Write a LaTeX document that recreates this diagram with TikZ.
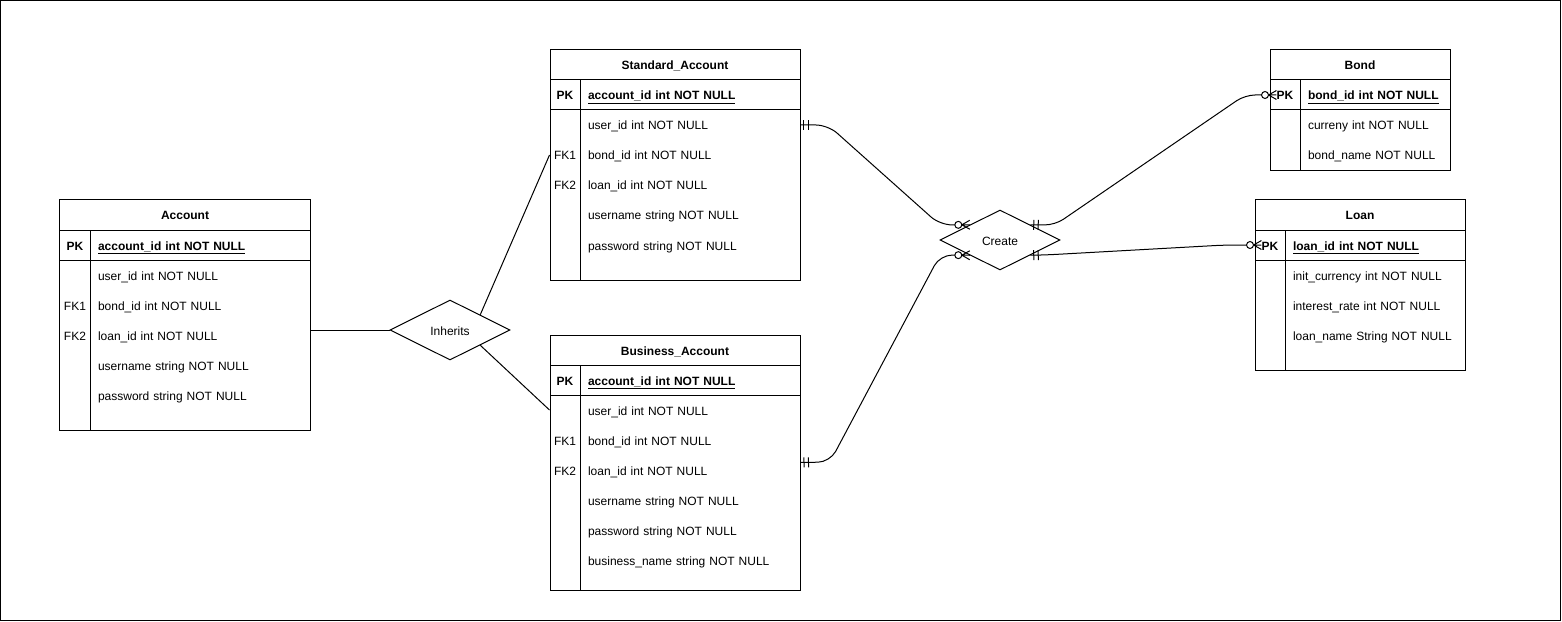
\documentclass[tikz,border=0pt]{standalone}
\usepackage{fontspec}
\setmainfont{Liberation Sans}
\usetikzlibrary{arrows.meta,shapes.geometric,calc}

% "exactly one" end of a relationship line: two bars across the line
\pgfdeclarearrow{
  name = ERone,
  setup code = {
    \pgfarrowssettipend{0pt}
    \pgfarrowssetlineend{0pt}
    \pgfarrowssetbackend{-10pt}
    \pgfarrowssetvisualbackend{-10pt}
    \pgfarrowshullpoint{0pt}{5pt}
    \pgfarrowshullpoint{0pt}{-5pt}
    \pgfarrowshullpoint{-10pt}{5pt}
    \pgfarrowshullpoint{-10pt}{-5pt}
  },
  drawing code = {
    \pgfsetdash{}{0pt}
    \pgfsetbuttcap
    \pgfpathmoveto{\pgfqpoint{-3.5pt}{-5pt}}
    \pgfpathlineto{\pgfqpoint{-3.5pt}{5pt}}
    \pgfpathmoveto{\pgfqpoint{-8pt}{-5pt}}
    \pgfpathlineto{\pgfqpoint{-8pt}{5pt}}
    \pgfusepathqstroke
  }
}

% "zero or many" end: crow's foot with an open circle
\pgfdeclarearrow{
  name = ERmany,
  setup code = {
    \pgfarrowssettipend{0pt}
    \pgfarrowssetlineend{-15pt}
    \pgfarrowssetbackend{-15.5pt}
    \pgfarrowssetvisualbackend{-15.5pt}
    \pgfarrowshullpoint{0pt}{4.5pt}
    \pgfarrowshullpoint{0pt}{-4.5pt}
    \pgfarrowshullpoint{-15.5pt}{3.5pt}
    \pgfarrowshullpoint{-15.5pt}{-3.5pt}
  },
  drawing code = {
    \pgfsetdash{}{0pt}
    \pgfpathmoveto{\pgfqpoint{0pt}{4.5pt}}
    \pgfpathlineto{\pgfqpoint{-8pt}{0pt}}
    \pgfpathlineto{\pgfqpoint{0pt}{-4.5pt}}
    \pgfpathmoveto{\pgfqpoint{-8pt}{0pt}}
    \pgfpathlineto{\pgfqpoint{0pt}{0pt}}
    \pgfusepathqstroke
    \pgfpathcircle{\pgfqpoint{-11.5pt}{0pt}}{3.5pt}
    \pgfsetfillcolor{white}
    \pgfusepathqfillstroke
  }
}

\newcommand{\erfont}{\fontsize{12bp}{14bp}\selectfont}

% entity table: name, left, right, top, bottom, title, primary key field
\newcommand{\ertable}[7]{%
  \pgfmathsetmacro\erW{#3-#2}%
  \pgfmathsetmacro\erH{#5-#4}%
  \pgfmathsetmacro\erTW{#3-#2-46}%
  \node[tbl, minimum width=\erW bp, minimum height=\erH bp] (#1) at ({(#2+#3)/2},{(#4+#5)/2}) {};
  \draw[grid] (#2,#4+30) -- (#3,#4+30);
  \draw[grid] (#2,#4+60) -- (#3,#4+60);
  \draw[grid] (#2+30,#4+30) -- (#2+30,#5);
  \node[headcell] (#1-head) at ({(#2+#3)/2},#4+15) {#6};
  \node[keycell] (#1-pkk) at (#2+15,#4+45) {PK};
  \node[pkattr, text width=\erTW bp] (#1-pk) at ({(#2+30+#3)/2},#4+45) {\underline{#7}};
}

% attribute row: name, left, right, centre y, key label, field
\newcommand{\errow}[6]{%
  \pgfmathsetmacro\erTW{#3-#2-46}%
  \node[keytext] (#1-k) at (#2+15,#4) {#5};
  \node[attr, text width=\erTW bp] (#1) at ({(#2+30+#3)/2},#4) {#6};
}

\tikzset{
  every node/.style={font=\erfont},
  grid/.style={line width=1bp},
  tbl/.style={draw, line width=1bp, inner sep=0pt},
  txt/.style={text height=10bp, text depth=0bp},
  headcell/.style={txt, inner sep=0pt, font=\erfont\bfseries},
  keycell/.style={txt, inner sep=0pt, font=\erfont\bfseries},
  keytext/.style={txt, inner sep=0pt},
  pkattr/.style={txt, inner xsep=8bp, inner ysep=0pt, align=left, font=\erfont\bfseries},
  attr/.style={txt, inner xsep=8bp, inner ysep=0pt, align=left},
  relation/.style={diamond, draw, line width=1bp, aspect=2, inner sep=0pt,
    minimum width=120bp, minimum height=60bp, txt},
  link/.style={line width=1bp, rounded corners=12bp},
}

\begin{document}
\begin{tikzpicture}[x=1bp, y=-1bp]
\useasboundingbox (0,0) rectangle (1562,622);
\draw[line width=1bp] (0.5,0.5) rectangle (1560.5,620.5);

% Account
\ertable{acc}{60}{310}{200}{430}{Account}{account\_id int NOT NULL}
\errow{acc-r1}{60}{310}{275}{}{user\_id int NOT NULL}
\errow{acc-r2}{60}{310}{305}{FK1}{bond\_id int NOT NULL}
\errow{acc-r3}{60}{310}{335}{FK2}{loan\_id int NOT NULL}
\errow{acc-r4}{60}{310}{365}{}{username string NOT NULL}
\errow{acc-r5}{60}{310}{395}{}{password string NOT NULL}

% Standard_Account
\ertable{sa}{550}{800}{50}{280}{Standard\_Account}{account\_id int NOT NULL}
\errow{sa-r1}{550}{800}{125}{}{user\_id int NOT NULL}
\errow{sa-r2}{550}{800}{155}{FK1}{bond\_id int NOT NULL}
\errow{sa-r3}{550}{800}{185}{FK2}{loan\_id int NOT NULL}
\errow{sa-r4}{550}{800}{215}{}{username string NOT NULL}
\errow{sa-r5}{550}{800}{245}{}{password string NOT NULL}

% Business_Account
\ertable{ba}{550}{800}{335}{590}{Business\_Account}{account\_id int NOT NULL}
\errow{ba-r1}{550}{800}{410}{}{user\_id int NOT NULL}
\errow{ba-r2}{550}{800}{440}{FK1}{bond\_id int NOT NULL}
\errow{ba-r3}{550}{800}{470}{FK2}{loan\_id int NOT NULL}
\errow{ba-r4}{550}{800}{500}{}{username string NOT NULL}
\errow{ba-r5}{550}{800}{530}{}{password string NOT NULL}
\errow{ba-r6}{550}{800}{560}{}{business\_name string NOT NULL}

% Bond
\ertable{bd}{1270}{1450}{50}{170}{Bond}{bond\_id int NOT NULL}
\errow{bd-r1}{1270}{1450}{125}{}{curreny int NOT NULL}
\errow{bd-r2}{1270}{1450}{155}{}{bond\_name NOT NULL}

% Loan
\ertable{ln}{1255}{1465}{200}{370}{Loan}{loan\_id int NOT NULL}
\errow{ln-r1}{1255}{1465}{275}{}{init\_currency int NOT NULL}
\errow{ln-r2}{1255}{1465}{305}{}{interest\_rate int NOT NULL}
\errow{ln-r3}{1255}{1465}{335}{}{loan\_name String NOT NULL}

% relationships
\node[relation] (inherits) at (450,330) {Inherits};
\node[relation] (create) at (1000,240) {Create};

% inheritance lines
\draw[line width=1bp] (acc.east |- inherits.west) -- (inherits.west);
\draw[line width=1bp] (inherits.north east) -- (sa.west |- sa-r2);
\draw[line width=1bp] (inherits.south east) -- (ba.west |- ba-r1);

% Create relationship lines
\draw[link, {ERone}-{ERmany}] (sa-r1.east) -- (828,125) -- (940,225) -- (create.north west);
\draw[link, {ERone}-{ERmany}] (ba.east) -- (830,462) -- (940,255) -- (create.south west);
\draw[link, rounded corners=10bp, {ERone}-{ERmany}] (create.north east) -- (1055,225) -- (1245,95) -- (bd-pkk.west);
\draw[link, {ERone}-{ERmany}] (create.south east) -- (1045,255) -- (1225,245) -- (ln-pkk.west);
\end{tikzpicture}
\end{document}
